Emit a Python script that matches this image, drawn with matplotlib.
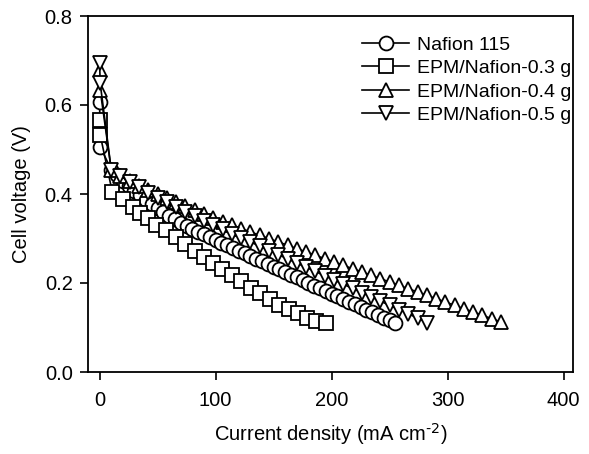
import matplotlib
matplotlib.use("Agg")
import matplotlib.pyplot as plt

plt.rcParams['font.family'] = ['Liberation Sans', 'DejaVu Sans']
plt.rcParams['mathtext.default'] = 'regular'

labels = ["Nafion 115", "EPM/Nafion-0.3 g", "EPM/Nafion-0.4 g", "EPM/Nafion-0.5 g"]

# Nafion 115 (circles)
c_x = [0, 0.5, 10, 15, 20, 25, 30, 35, 40, 45, 50, 55, 60, 65, 70, 75, 80, 85, 90, 95,
       100, 105, 110, 115, 120, 125, 130, 135, 140, 145, 150, 155, 160, 165, 170, 175,
       180, 185, 190, 195, 200, 205, 210, 215, 220, 225, 230, 235, 240, 245, 250, 255]
c_y = [0.607, 0.506, 0.455, 0.442, 0.430, 0.418, 0.407, 0.397, 0.387, 0.377, 0.368, 0.359,
       0.351, 0.343, 0.335, 0.328, 0.321, 0.315, 0.309, 0.303, 0.297, 0.291, 0.285, 0.279,
       0.273, 0.267, 0.261, 0.255, 0.249, 0.243, 0.237, 0.231, 0.225, 0.219, 0.213, 0.207,
       0.200, 0.194, 0.188, 0.182, 0.176, 0.170, 0.164, 0.158, 0.152, 0.146, 0.140, 0.134,
       0.128, 0.122, 0.117, 0.111]

# EPM/Nafion-0.3 g (squares)
s_x = [0, 0.5, 10.9, 20.1, 28.7, 35, 41.6, 48.9, 57.5, 65.5, 73.3, 81.9, 89.9, 97.7, 105.8,
       114.1, 122.2, 130.2, 138.5, 146.6, 154.6, 163.2, 171, 178.7, 186.8, 194.8]
s_y = [0.566, 0.533, 0.405, 0.388, 0.371, 0.358, 0.345, 0.330, 0.318, 0.303, 0.288, 0.273,
       0.258, 0.244, 0.231, 0.218, 0.204, 0.189, 0.177, 0.163, 0.151, 0.141, 0.132, 0.121,
       0.115, 0.109]

# EPM/Nafion-0.4 g (up triangles)
u_x = [0, 0.5, 10, 18, 26, 34, 42, 50, 58, 66, 74, 82, 90, 98, 106, 114, 122, 130, 138, 146,
       154, 162, 170, 178, 186, 194, 202, 210, 218, 226, 234, 242, 250, 258, 266, 274, 282,
       290, 298, 306, 314, 322, 330, 338, 346]
u_y = [0.679, 0.634, 0.455, 0.441, 0.430, 0.419, 0.409, 0.399, 0.390, 0.381, 0.372, 0.363,
       0.354, 0.346, 0.338, 0.330, 0.322, 0.315, 0.307, 0.300, 0.292, 0.285, 0.277, 0.270,
       0.262, 0.255, 0.247, 0.240, 0.232, 0.225, 0.217, 0.210, 0.202, 0.195, 0.187, 0.180,
       0.172, 0.165, 0.157, 0.150, 0.142, 0.135, 0.127, 0.120, 0.112]

# EPM/Nafion-0.5 g (down triangles)
d_x = [0, 0.5, 10, 18, 26, 34, 42, 50, 58, 66, 74, 82, 90, 98, 106, 114, 122, 130, 138, 146,
       154, 162, 170, 178, 186, 194, 202, 210, 218, 226, 234, 242, 250, 258, 266, 274, 282]
d_y = [0.694, 0.649, 0.455, 0.440, 0.427, 0.415, 0.403, 0.392, 0.381, 0.370, 0.360, 0.350,
       0.340, 0.330, 0.321, 0.311, 0.302, 0.292, 0.283, 0.273, 0.264, 0.254, 0.245, 0.235,
       0.226, 0.216, 0.207, 0.197, 0.188, 0.178, 0.169, 0.159, 0.150, 0.140, 0.131, 0.121,
       0.111]

x_ticks = [0, 100, 200, 300, 400]
y_ticks = [0.0, 0.2, 0.4, 0.6, 0.8]

fig = plt.figure(figsize=(5.89, 4.54), dpi=100)
ax = fig.add_axes([88/589, 82/454, (573-88)/589, (372-16)/454])

series = [(c_x, c_y, 'o'), (s_x, s_y, 's'), (u_x, u_y, '^'), (d_x, d_y, 'v')]
for (xs, ys, m), lab in zip(series, labels):
    ms = 10 if m in ('o', 's') else 10.5
    ax.plot(xs, ys, color='black', lw=1.2, marker=m, markersize=ms,
            markerfacecolor='white', markeredgecolor='black', markeredgewidth=1.3,
            label=lab)

ax.set_xlim(-10, 408)
ax.set_ylim(0, 0.8)
ax.set_xticks(x_ticks)
ax.set_yticks(y_ticks)
ax.set_yticklabels([f"{v:.1f}" for v in y_ticks])
ax.tick_params(axis='both', direction='out', length=6, width=1.2, labelsize=14.5,
               top=False, right=False)
ax.tick_params(axis='x', pad=8)
ax.tick_params(axis='y', pad=5)
for sp in ax.spines.values():
    sp.set_linewidth(1.3)

ax.set_xlabel(r"Current density (mA cm$^{\text{-2}}$)", fontsize=14.5, labelpad=8)
ax.set_ylabel("Cell voltage (V)", fontsize=14.5, labelpad=10)

leg = ax.legend(loc='upper right', frameon=False, fontsize=14, handlelength=2.4,
                handletextpad=0.4, labelspacing=0.3, borderaxespad=0.0,
                bbox_to_anchor=(1.012, 0.965))

fig.savefig("out.png", dpi=100)
